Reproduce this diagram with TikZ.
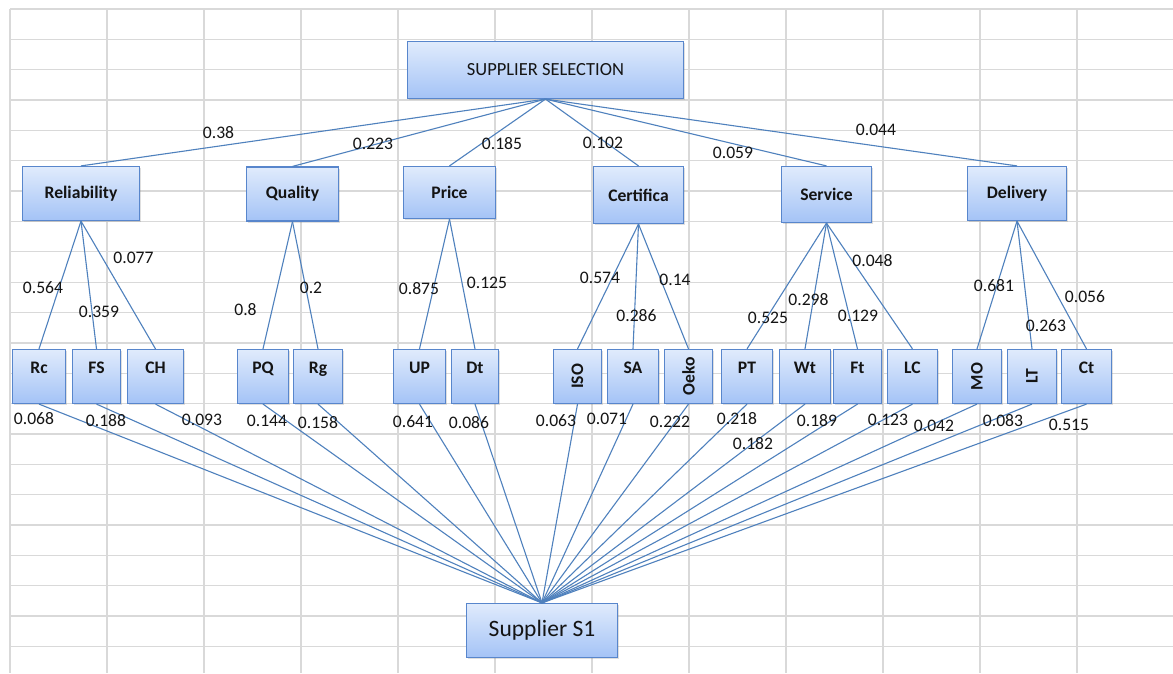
\documentclass[tikz,border=0pt]{standalone}
\usepackage{fontspec}
\setmainfont{Carlito}
\usepackage{graphicx}
\usetikzlibrary{shadows}

\definecolor{gridgray}{RGB}{217,217,217}
\definecolor{boxtop}{RGB}{224,235,252}
\definecolor{boxbot}{RGB}{164,195,246}
\definecolor{boxedge}{RGB}{88,134,204}
\definecolor{linkblue}{RGB}{79,129,189}
\definecolor{inkgray}{RGB}{20,20,20}

\begin{document}
\begin{tikzpicture}[x=1pt,y=-1pt,
  box/.style={draw=boxedge, line width=1.2pt, top color=boxtop, bottom color=boxbot,
    inner sep=0pt, text=inkgray,
    drop shadow={shadow xshift=1.3pt, shadow yshift=-1.6pt, opacity=0.25}},
  goalbox/.style={box, minimum width=276pt, minimum height=57pt,
    font=\fontsize{18.5}{20}\selectfont},
  critbox/.style={box, minimum height=54pt, font=\fontsize{17.6}{20}\selectfont\bfseries},
  subbox/.style={box, text height=24.2pt, text depth=29.8pt,
    font=\fontsize{17.6}{20}\selectfont\bfseries},
  rotbox/.style={box, minimum height=54pt, font=\fontsize{17.6}{20}\selectfont\bfseries},
  altbox/.style={box, minimum width=151pt, minimum height=54pt,
    font=\fontsize{23.5}{26}\selectfont},
  link/.style={draw=linkblue, line width=1.1pt},
  wt/.style={inner sep=0pt, text=inkgray, font=\fontsize{17.6}{20}\selectfont}
]
\useasboundingbox (0,0) rectangle (1173,673);
\fill[white] (0,0) rectangle (1173,673);

% spreadsheet grid
\foreach \gx in {10,107,...,1174}
  \draw[gridgray, line width=1.3pt] (\gx,9) -- (\gx,673);
\foreach \k in {0,...,21}
  \draw[gridgray, line width=1.3pt] (10,{9+30.35*\k}) -- (1173,{9+30.35*\k});

% goal
\node[goalbox] (goal) at (545.5,70) {SUPPLIER SELECTION};

% criteria
\node[critbox, minimum width=117pt] (rel)   at (81,193.5)   {Reliability};
\node[critbox, minimum width=92pt]  (qual)  at (292.5,194)  {Quality};
\node[critbox, minimum width=92pt, minimum height=52pt] (price) at (449.5,192.5) {Price};
\node[critbox, minimum width=90pt, minimum height=57pt] (cert)  at (638.5,195) {Certifica};
\node[critbox, minimum width=90pt, minimum height=56pt] (serv)  at (826.5,194.5) {Service};
\node[critbox, minimum width=99pt]  (deliv) at (1017,193.5) {Delivery};

% sub-criteria
\node[subbox, minimum width=53pt] (rc)   at (39,376.5)    {Rc};
\node[subbox, minimum width=48pt] (fs)   at (96.5,376.5)  {FS};
\node[subbox, minimum width=56pt] (ch)   at (155.5,376.5) {CH};
\node[subbox, minimum width=51pt] (pq)   at (263,376.5)   {PQ};
\node[subbox, minimum width=49pt] (rg)   at (318,376.5)   {Rg};
\node[subbox, minimum width=52pt] (up)   at (419.5,376.5) {UP};
\node[subbox, minimum width=47pt] (dt)   at (475,376.5)   {Dt};
\node[rotbox, minimum width=48pt] (iso)  at (577.5,376.5) {\rotatebox{90}{ISO}};
\node[subbox, minimum width=51pt] (sa)   at (633,376.5)   {SA};
\node[rotbox, minimum width=48pt] (oeko) at (688.5,376.5) {\rotatebox{90}{Oeko}};
\node[subbox, minimum width=51pt] (pt)   at (747,376.5)   {PT};
\node[subbox, minimum width=51pt] (wt)   at (805,376.5)   {Wt};
\node[subbox, minimum width=48pt] (ft)   at (857.5,376.5) {Ft};
\node[subbox, minimum width=50pt] (lc)   at (912.5,376.5) {LC};
\node[rotbox, minimum width=49pt] (mo)   at (977,376.5)   {\rotatebox{90}{MO}};
\node[rotbox, minimum width=49pt] (lt)   at (1032,376.5)  {\rotatebox{90}{LT}};
\node[subbox, minimum width=50pt] (ct)   at (1086.5,376.5) {Ct};

% alternative
\node[altbox] (alt) at (542,630.5) {Supplier S1};

% links goal -> criteria
\foreach \c in {rel,qual,price,cert,serv,deliv}
  \draw[link] (goal.south) -- (\c.north);

% links criteria -> sub-criteria
\foreach \s in {rc,fs,ch} \draw[link] (rel.south) -- (\s.north);
\foreach \s in {pq,rg} \draw[link] (qual.south) -- (\s.north);
\foreach \s in {up,dt} \draw[link] (price.south) -- (\s.north);
\foreach \s in {iso,sa,oeko} \draw[link] (cert.south) -- (\s.north);
\foreach \s in {pt,wt,ft,lc} \draw[link] (serv.south) -- (\s.north);
\foreach \s in {mo,lt,ct} \draw[link] (deliv.south) -- (\s.north);

% links sub-criteria -> alternative
\foreach \s in {rc,fs,ch,pq,rg,up,dt,iso,sa,oeko,pt,wt,ft,lc,mo,lt,ct}
  \draw[link] (\s.south) -- (alt.north);

% criteria weights
\node[wt] (w1) at (218.5,133)  {0.38};
\node[wt] (w2) at (373,143.5)  {0.223};
\node[wt] (w3) at (502,143.5)  {0.185};
\node[wt] (w4) at (603,142.5)  {0.102};
\node[wt] (w5) at (733,153)    {0.059};
\node[wt] (w6) at (876,129.5)  {0.044};

% local sub-criteria weights
\node[wt] (s1)  at (43,288)     {0.564};
\node[wt] (s2)  at (99,311.5)   {0.359};
\node[wt] (s3)  at (133.5,257.5) {0.077};
\node[wt] (s4)  at (245.5,309.5) {0.8};
\node[wt] (s5)  at (311,287.5)  {0.2};
\node[wt] (s6)  at (419,289)    {0.875};
\node[wt] (s7)  at (487,282.5)  {0.125};
\node[wt] (s8)  at (600,278)    {0.574};
\node[wt] (s9)  at (636.5,315.5) {0.286};
\node[wt] (s10) at (675,279.5)  {0.14};
\node[wt] (s11) at (768,318)    {0.525};
\node[wt] (s12) at (808.5,299.5) {0.298};
\node[wt] (s13) at (858,315.5)  {0.129};
\node[wt] (s14) at (872.5,260.5) {0.048};
\node[wt] (s15) at (994,285.5)  {0.681};
\node[wt] (s16) at (1046,325.5) {0.263};
\node[wt] (s17) at (1085,297)   {0.056};

% global weights
\node[wt] (g1)  at (34,419)     {0.068};
\node[wt] (g2)  at (106,420.5)  {0.188};
\node[wt] (g3)  at (202,419.5)  {0.093};
\node[wt] (g4)  at (267,421)    {0.144};
\node[wt] (g5)  at (318,423)    {0.158};
\node[wt] (g6)  at (413,421.5)  {0.641};
\node[wt] (g7)  at (469,423)    {0.086};
\node[wt] (g8)  at (556,421)    {0.063};
\node[wt] (g9)  at (607,419)    {0.071};
\node[wt] (g10) at (670,422)    {0.222};
\node[wt] (g11) at (737,419)    {0.218};
\node[wt] (g12) at (753,443.5)  {0.182};
\node[wt] (g13) at (817,420.5)  {0.189};
\node[wt] (g14) at (888,419.5)  {0.123};
\node[wt] (g15) at (934,426)    {0.042};
\node[wt] (g16) at (1003,420.5) {0.083};
\node[wt] (g17) at (1069,425)   {0.515};
\end{tikzpicture}
\end{document}
